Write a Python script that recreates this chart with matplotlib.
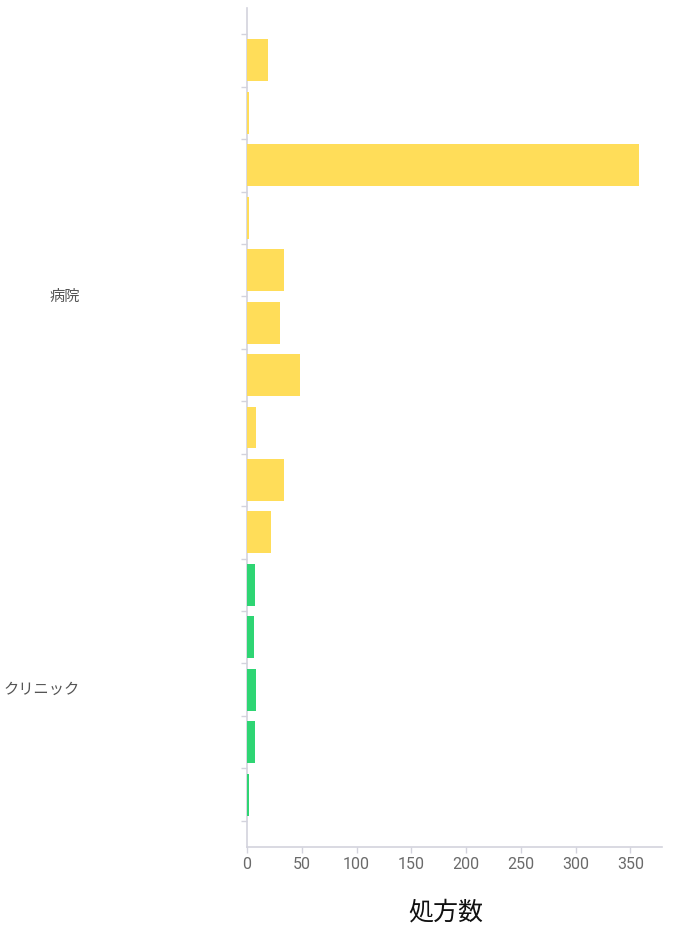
import matplotlib

matplotlib.use("Agg")
import matplotlib.pyplot as plt
import matplotlib.transforms as mtransforms

plt.rcParams["font.family"] = ["Noto Sans CJK JP", "DejaVu Sans"]

# prescriptions per facility, grouped by facility type
GROUPS = ["病院", "クリニック"]
HOSPITAL_COUNTS = [19, 2, 358, 2, 34, 30, 48, 8, 34, 22]
CLINIC_COUNTS = [7, 6, 8, 7, 2]
GROUP_COLOURS = ["#ffdd59", "#2ed573"]
XTICKS = [0, 50, 100, 150, 200, 250, 300, 350]
XLABEL = "処方数"

AXIS_COL = "#d3d3dd"
TICK_TEXT = "#6a6a6a"

fig = plt.figure(figsize=(6.75, 9.27), dpi=100)
ax = fig.add_axes([0.366, 0.0863, 0.615, 0.9051])

series = [HOSPITAL_COUNTS, CLINIC_COUNTS]
pos = 0
group_centres = []
for counts, colour in zip(series, GROUP_COLOURS):
    ys = list(range(pos, pos + len(counts)))
    ax.barh(ys, counts, height=0.8, color=colour, edgecolor="none", zorder=2)
    group_centres.append((ys[0] + ys[-1]) / 2)
    pos += len(counts)

n_bars = pos
ax.set_ylim(n_bars, -1.0)
ax.set_xlim(0, 379)

# category boundaries as small ticks, no labels
ax.set_yticks([i - 0.5 for i in range(n_bars + 1)])
ax.set_yticklabels([])
ax.tick_params(axis="y", length=4, width=1, color=AXIS_COL)

ax.set_xticks(XTICKS)
ax.set_xticklabels([str(t) for t in XTICKS], family="Roboto",
                   fontsize=11.5, color=TICK_TEXT)
ax.tick_params(axis="x", length=4, width=1, color=AXIS_COL, pad=3)

for side in ("top", "right"):
    ax.spines[side].set_visible(False)
for side in ("left", "bottom"):
    ax.spines[side].set_color(AXIS_COL)
    ax.spines[side].set_linewidth(1.2)
    ax.spines[side].set_zorder(1)

# group labels sit far left of the axis, right-aligned
trans = mtransforms.blended_transform_factory(fig.transFigure, ax.transData)
for name, yc in zip(GROUPS, group_centres):
    ax.text(80 / 675, yc, name, transform=trans, ha="right", va="center",
            fontsize=11, color="#555555")

ax.set_xlabel(XLABEL, fontsize=18, color="#111111")
ax.xaxis.set_label_coords(0.48, -0.062)

fig.savefig("out.png", dpi=100, facecolor="white")
